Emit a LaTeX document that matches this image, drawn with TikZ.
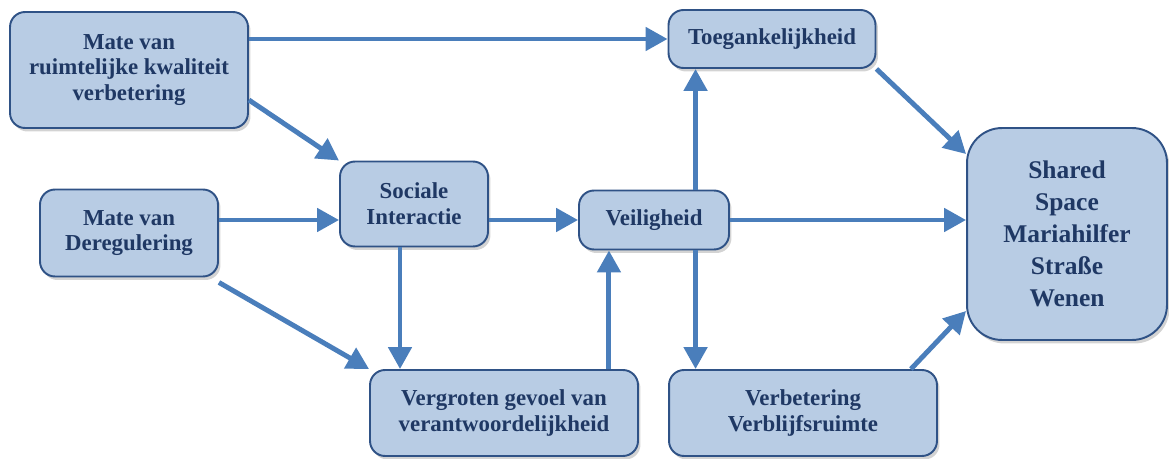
\documentclass[tikz,border=0pt]{standalone}
\usepackage{fontspec}
\setmainfont{Liberation Serif}
\usepackage{tikz}
\usetikzlibrary{arrows.meta,calc,shadows}
\usepackage{xcolor}
\definecolor{boxfill}{HTML}{B8CCE4}
\definecolor{boxline}{HTML}{2F5286}
\definecolor{boxtext}{HTML}{1F3864}
\definecolor{pijl}{HTML}{4A7EBB}

\begin{document}
\begin{tikzpicture}[x=0.02cm, y=-0.02cm,
  blok/.style={draw=boxline, line width=1.1pt, fill=boxfill, rounded corners=0.3cm,
    align=center, text=boxtext, inner sep=2pt,
    font=\fontsize{13}{14.6}\selectfont\bfseries,
    drop shadow={opacity=0.35, shadow xshift=0.05cm, shadow yshift=-0.07cm}},
  pijl/.style={draw=pijl, line width=2.8pt, -{Triangle[length=0.44cm, width=0.46cm]}}]
  \useasboundingbox (0,0) rectangle (1169,459);
  % blokken
  \node[blok, minimum width=4.76cm, minimum height=2.32cm] (ruimte) at (129,70)
    {Mate van\\ruimtelijke kwaliteit\\verbetering};
  \node[blok, minimum width=3.56cm, minimum height=1.74cm] (dereg) at (129,233)
    {Mate van\\Deregulering};
  \node[blok, minimum width=2.96cm, minimum height=1.70cm] (sociaal) at (414,204)
    {Sociale\\Interactie};
  \node[blok, minimum width=3.00cm, minimum height=1.18cm] (veilig) at (654,220)
    {Veiligheid};
  \node[blok, minimum width=4.14cm, minimum height=1.16cm] (toegang) at (772,39)
    {Toegankelijkheid};
  \node[blok, minimum width=5.36cm, minimum height=1.72cm] (gevoel) at (504,413)
    {Vergroten gevoel van\\verantwoordelijkheid};
  \node[blok, minimum width=5.36cm, minimum height=1.72cm] (verblijf) at (803,413)
    {Verbetering\\Verblijfsruimte};
  \node[blok, rounded corners=0.7cm, minimum width=4.0cm, minimum height=4.24cm,
    font=\fontsize{14.5}{18.2}\selectfont\bfseries] (shared) at (1067,234)
    {Shared\\Space\\Mariahilfer\\Straße\\Wenen};
  % hulppunten
  \coordinate (vx) at ([xshift=0.56cm]toegang.south west);
  \coordinate (sx) at ([xshift=-0.28cm]sociaal.south);
  \coordinate (gx) at ([xshift=-0.6cm]gevoel.north east);
  % pijlen
  \draw[pijl] (ruimte.east |- toegang.west) -- (toegang.west);
  \draw[pijl] ([yshift=-0.6cm]ruimte.east) -- (sociaal.north west);
  \draw[pijl] (dereg.east |- veilig.west) -- (sociaal.west |- veilig.west);
  \draw[pijl] ([yshift=-0.1cm]dereg.south east) -- (gevoel.north west);
  \draw[pijl] (sociaal.east |- veilig.west) -- (veilig.west);
  \draw[pijl] (sx) -- (sx |- gevoel.north);
  \draw[pijl] (gx) -- (gx |- veilig.south);
  \draw[pijl] (vx |- veilig.north) -- (vx);
  \draw[pijl] (vx |- veilig.south) -- (vx |- verblijf.north);
  \draw[pijl] (veilig.east) -- (veilig.east -| shared.west);
  \draw[pijl] (toegang.south east) -- ([yshift=1.6cm]shared.west);
  \draw[pijl] ([xshift=-0.54cm]verblijf.north east) -- ([yshift=-1.54cm]shared.west);
\end{tikzpicture}
\end{document}
